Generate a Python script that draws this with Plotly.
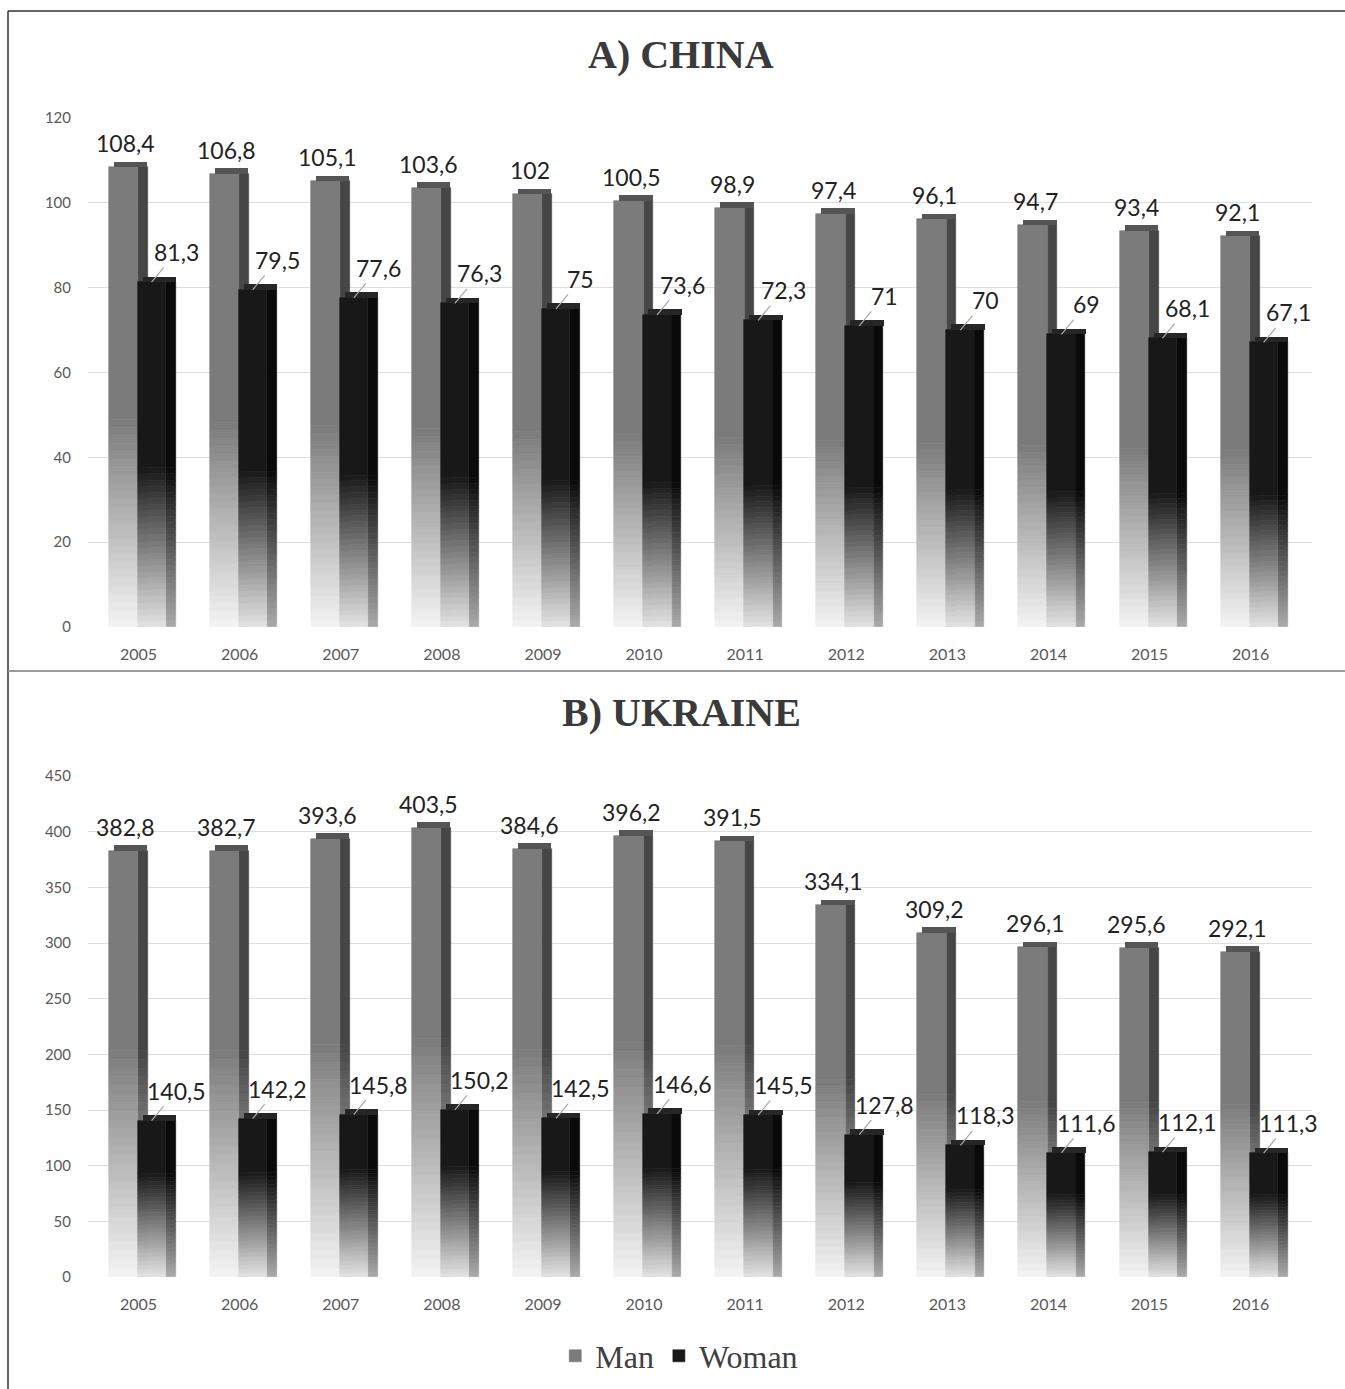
import plotly.graph_objects as go

years = ['2005', '2006', '2007', '2008', '2009', '2010', '2011', '2012', '2013', '2014', '2015', '2016']
china_man = [108.4, 106.8, 105.1, 103.6, 102, 100.5, 98.9, 97.4, 96.1, 94.7, 93.4, 92.1]
china_woman = [81.3, 79.5, 77.6, 76.3, 75, 73.6, 72.3, 71, 70, 69, 68.1, 67.1]
ukraine_man = [382.8, 382.7, 393.6, 403.5, 384.6, 396.2, 391.5, 334.1, 309.2, 296.1, 295.6, 292.1]
ukraine_woman = [140.5, 142.2, 145.8, 150.2, 142.5, 146.6, 145.5, 127.8, 118.3, 111.6, 112.1, 111.3]
series_names = ['Man', 'Woman']
panel_titles = ['A) CHINA', 'B) UKRAINE']
china_ticks = [0, 20, 40, 60, 80, 100, 120]
ukraine_ticks = [0, 50, 100, 150, 200, 250, 300, 350, 400, 450]

W, H = 1345, 1389
BAND = 101.1  # px per category
X0, X1 = 88, 1312

fig = go.Figure()

N = 26


def grey(g):
    g = int(round(g))
    return f'rgb({g},{g},{g})'


def add_face(values, xa, ya, offset, width, top, bottom, thr, name=None, legend=False):
    # solid upper part
    fig.add_trace(go.Bar(
        x=years, y=[v * (1 - thr) for v in values], base=[v * thr for v in values],
        offset=offset, width=width, xaxis=xa, yaxis=ya,
        marker=dict(color=grey(top), line=dict(width=0.6, color=grey(top))),
        hoverinfo='skip', showlegend=legend, name=name or '', legendgroup=name or None))
    # gradient lower part
    for k in range(N):
        lo, hi = k / N, (k + 1) / N
        t = (k + 0.5) / N
        c = grey(bottom + (top - bottom) * t)
        fig.add_trace(go.Bar(
            x=years, y=[v * thr * (hi - lo) for v in values], base=[v * thr * lo for v in values],
            offset=offset, width=width, xaxis=xa, yaxis=ya,
            marker=dict(color=c, line=dict(width=0.6, color=c)),
            hoverinfo='skip', showlegend=False))


def add_cap(values, xa, ya, offset, width, delta, color):
    fig.add_trace(go.Bar(
        x=years, y=[delta] * len(values), base=values,
        offset=offset, width=width, xaxis=xa, yaxis=ya,
        marker=dict(color=color, line=dict(width=0)),
        hoverinfo='skip', showlegend=False))


panels = [
    dict(man=china_man, woman=china_woman, xa='x', ya='y', rng=120, ticks=china_ticks,
         mthr=0.45, wthr=0.46),
    dict(man=ukraine_man, woman=ukraine_woman, xa='x2', ya='y2', rng=450, ticks=ukraine_ticks,
         mthr=0.53, wthr=0.66),
]

mf_off, mf_w = -30 / BAND, 29.5 / BAND
ms_off, ms_w = -1 / BAND, 10 / BAND
wf_off, wf_w = -1 / BAND, 28.5 / BAND
ws_off, ws_w = 27 / BAND, 10 / BAND
cap_in = 5 / BAND

for pi, p in enumerate(panels):
    delta = p['rng'] * 0.011
    legend = pi == 0
    add_face(p['man'], p['xa'], p['ya'], ms_off, ms_w, 70, 215, p['mthr'])
    add_face(p['man'], p['xa'], p['ya'], mf_off, mf_w, 123, 244, p['mthr'], name='Man', legend=legend)
    add_cap(p['man'], p['xa'], p['ya'], mf_off + cap_in, mf_w + ms_w - 1 / BAND - cap_in, delta, '#555555')
    add_face(p['woman'], p['xa'], p['ya'], ws_off, ws_w, 10, 170, p['wthr'])
    add_face(p['woman'], p['xa'], p['ya'], wf_off, wf_w, 24, 228, p['wthr'], name='Woman', legend=legend)
    add_cap(p['woman'], p['xa'], p['ya'], wf_off + cap_in, wf_w + ws_w - cap_in, delta, '#262626')


def fmt(v):
    return f'{v:g}'.replace('.', ',')


annotations = []
label_font = dict(family='Lato, Open Sans, sans-serif', size=23, color='#222222')
for p in panels:
    xref = p['xa']
    yref = p['ya']
    for i, yr in enumerate(years):
        annotations.append(dict(
            x=i, y=p['man'][i], xref=xref, yref=yref, text=fmt(p['man'][i]),
            showarrow=False, xanchor='center', yanchor='bottom', xshift=-13, yshift=8,
            font=label_font))
        annotations.append(dict(
            x=i, y=p['woman'][i], xref=xref, yref=yref, text=fmt(p['woman'][i]),
            showarrow=True, arrowhead=0, arrowwidth=1.2, arrowcolor='#a8a8a8',
            ax=25, ay=-30, xshift=13, standoff=0,
            font=label_font))

title_font = dict(family='Liberation Serif, DejaVu Serif, serif', size=40, color='#3a3a3a')
annotations.append(dict(x=681 / W, y=1 - 55 / H, xref='paper', yref='paper', text='<b>' + panel_titles[0] + '</b>',
                        showarrow=False, xanchor='center', yanchor='middle', font=title_font))
annotations.append(dict(x=681 / W, y=1 - 713 / H, xref='paper', yref='paper', text='<b>' + panel_titles[1] + '</b>',
                        showarrow=False, xanchor='center', yanchor='middle', font=title_font))

xdom = [X0 / W, X1 / W]
x_hi = -0.5 + (X1 - X0) / BAND
tickfont_x = dict(family='Lato, Open Sans, sans-serif', size=16, color='#595959')
tickfont_y = dict(family='Lato, Open Sans, sans-serif', size=15, color='#595959')

axis_x = dict(domain=xdom, type='category', range=[-0.5, x_hi], showgrid=False, zeroline=False,
              showline=False, ticks='', tickfont=tickfont_x, ticklabelstandoff=16, automargin=False,
              fixedrange=True)

fig.update_layout(
    width=W, height=H,
    margin=dict(l=0, r=0, t=0, b=0),
    paper_bgcolor='white', plot_bgcolor='white',
    barmode='overlay', bargap=0,
    xaxis=dict(axis_x, anchor='y'),
    xaxis2=dict(axis_x, anchor='y2'),
    yaxis=dict(domain=[1 - 627 / H, 1 - 118 / H], range=[0, 120], tickvals=china_ticks,
               showgrid=True, gridcolor='#dedede', gridwidth=1, zeroline=False, showline=False,
               ticks='', tickfont=tickfont_y, ticklabelstandoff=16, automargin=False, anchor='x'),
    yaxis2=dict(domain=[1 - 1277 / H, 1 - 776 / H], range=[0, 450], tickvals=ukraine_ticks,
                showgrid=True, gridcolor='#dedede', gridwidth=1, zeroline=False, showline=False,
                ticks='', tickfont=tickfont_y, ticklabelstandoff=16, automargin=False, anchor='x2'),
    legend=dict(orientation='h', x=0.505, y=1 - 1356 / H, xanchor='center', yanchor='middle',
                font=dict(family='Liberation Serif, DejaVu Serif, serif', size=32, color='#404040'),
                itemwidth=30, bgcolor='rgba(0,0,0,0)', traceorder='normal'),
    annotations=annotations,
    shapes=[
        dict(type='line', xref='paper', yref='paper', x0=8 / W, x1=8 / W, y0=0, y1=1 - 11 / H,
             line=dict(color='#333333', width=1.5)),
        dict(type='line', xref='paper', yref='paper', x0=8 / W, x1=1, y0=1 - 11 / H, y1=1 - 11 / H,
             line=dict(color='#333333', width=1.5)),
        dict(type='line', xref='paper', yref='paper', x0=8 / W, x1=1, y0=1 - 671 / H, y1=1 - 671 / H,
             line=dict(color='#9a9a9a', width=2)),
    ],
)

fig.write_html('out.html')
